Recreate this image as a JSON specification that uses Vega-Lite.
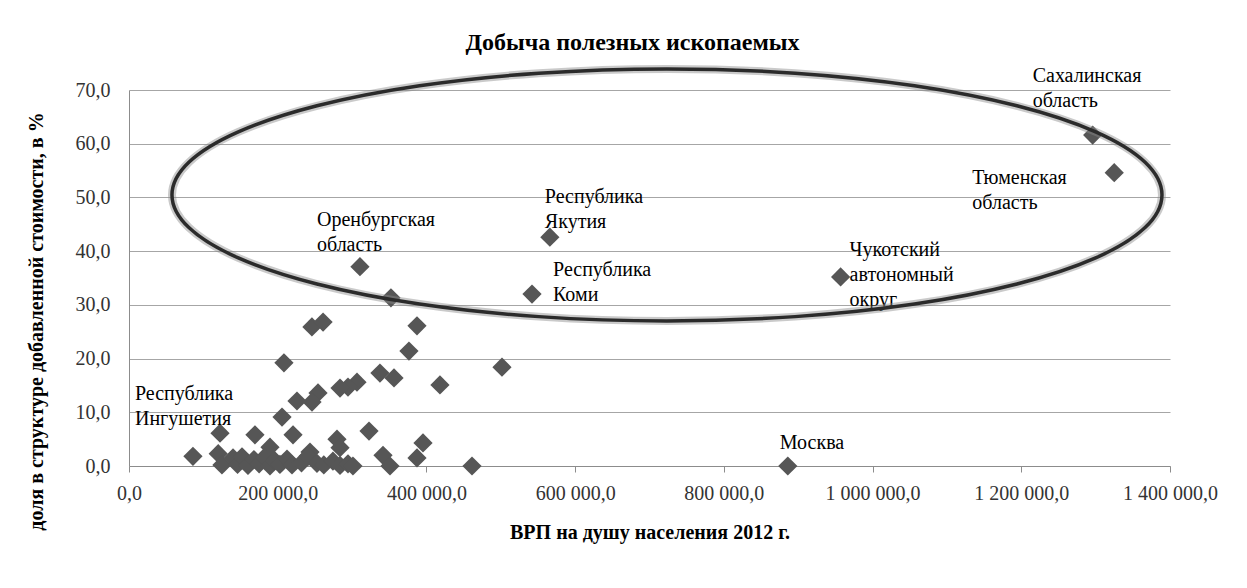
{
  "$schema": "https://vega.github.io/schema/vega-lite/v6.json",
  "width": 1041,
  "height": 376,
  "autosize": {"type": "none"},
  "padding": {"left": 129, "top": 90, "right": 77, "bottom": 122},
  "background": "white",
  "title": {
    "text": "Добыча полезных ископаемых",
    "font": "Liberation Serif, Times New Roman, DejaVu Serif, serif",
    "fontSize": 24,
    "fontWeight": "bold",
    "color": "#000000",
    "frame": "group",
    "anchor": "middle",
    "baseline": "alphabetic",
    "offset": -21,
    "dx": -17
  },
  "config": {
    "view": {"stroke": null},
    "font": "Liberation Serif, Times New Roman, DejaVu Serif, serif",
    "text": {"font": "Liberation Serif, Times New Roman, DejaVu Serif, serif", "fontSize": 20, "color": "#000000", "lineBreak": " ", "lineHeight": 25, "align": "left", "baseline": "top"}
  },
  "datasets": {
    "pts": [
      {"gdp": 1296000, "share": 61.6, "region": "Сахалинская область"},
      {"gdp": 1325000, "share": 54.6, "region": "Тюменская область"},
      {"gdp": 566000, "share": 42.6, "region": "Республика Якутия"},
      {"gdp": 542000, "share": 32.0, "region": "Республика Коми"},
      {"gdp": 957000, "share": 35.2, "region": "Чукотский автономный округ"},
      {"gdp": 886000, "share": 0.0, "region": "Москва"},
      {"gdp": 310600, "share": 37.1, "region": "Оренбургская область"},
      {"gdp": 86000, "share": 1.8, "region": "Республика Ингушетия"},
      {"gdp": 352300, "share": 31.3, "region": ""},
      {"gdp": 246000, "share": 25.9, "region": ""},
      {"gdp": 261000, "share": 26.8, "region": ""},
      {"gdp": 387300, "share": 26.1, "region": ""},
      {"gdp": 376500, "share": 21.4, "region": ""},
      {"gdp": 208400, "share": 19.2, "region": ""},
      {"gdp": 501600, "share": 18.4, "region": ""},
      {"gdp": 337500, "share": 17.3, "region": ""},
      {"gdp": 356400, "share": 16.4, "region": ""},
      {"gdp": 418200, "share": 15.1, "region": ""},
      {"gdp": 306600, "share": 15.6, "region": ""},
      {"gdp": 294500, "share": 14.7, "region": ""},
      {"gdp": 283800, "share": 14.5, "region": ""},
      {"gdp": 254200, "share": 13.6, "region": ""},
      {"gdp": 246100, "share": 11.9, "region": ""},
      {"gdp": 225900, "share": 12.1, "region": ""},
      {"gdp": 205800, "share": 9.1, "region": ""},
      {"gdp": 220600, "share": 5.8, "region": ""},
      {"gdp": 169400, "share": 5.8, "region": ""},
      {"gdp": 122400, "share": 6.1, "region": ""},
      {"gdp": 322800, "share": 6.5, "region": ""},
      {"gdp": 279700, "share": 5.0, "region": ""},
      {"gdp": 395400, "share": 4.3, "region": ""},
      {"gdp": 341600, "share": 2.0, "region": ""},
      {"gdp": 387300, "share": 1.5, "region": ""},
      {"gdp": 461300, "share": 0.0, "region": ""},
      {"gdp": 351000, "share": 0.0, "region": ""},
      {"gdp": 189600, "share": 3.5, "region": ""},
      {"gdp": 243400, "share": 2.6, "region": ""},
      {"gdp": 283800, "share": 3.4, "region": ""},
      {"gdp": 120000, "share": 2.3, "region": ""},
      {"gdp": 125000, "share": 0.2, "region": ""},
      {"gdp": 139900, "share": 1.5, "region": ""},
      {"gdp": 146000, "share": 0.3, "region": ""},
      {"gdp": 152000, "share": 1.7, "region": ""},
      {"gdp": 160000, "share": 0.1, "region": ""},
      {"gdp": 168000, "share": 1.2, "region": ""},
      {"gdp": 175000, "share": 0.4, "region": ""},
      {"gdp": 182000, "share": 1.6, "region": ""},
      {"gdp": 189600, "share": 0.0, "region": ""},
      {"gdp": 196000, "share": 1.0, "region": ""},
      {"gdp": 203000, "share": 0.3, "region": ""},
      {"gdp": 212500, "share": 1.3, "region": ""},
      {"gdp": 219200, "share": 0.2, "region": ""},
      {"gdp": 232000, "share": 0.6, "region": ""},
      {"gdp": 240700, "share": 1.8, "region": ""},
      {"gdp": 252800, "share": 0.5, "region": ""},
      {"gdp": 262000, "share": 0.2, "region": ""},
      {"gdp": 274300, "share": 0.9, "region": ""},
      {"gdp": 283800, "share": 0.1, "region": ""},
      {"gdp": 294500, "share": 0.4, "region": ""},
      {"gdp": 301200, "share": 0.0, "region": ""}
    ],
    "ellipse": [
      {"i": 0, "gdp": 1389200, "share": 50.47},
      {"i": 1, "gdp": 1366500, "share": 56.54},
      {"i": 2, "gdp": 1300000, "share": 62.2},
      {"i": 3, "gdp": 1194200, "share": 67.06},
      {"i": 4, "gdp": 1056350, "share": 70.79},
      {"i": 5, "gdp": 895780, "share": 73.13},
      {"i": 6, "gdp": 723500, "share": 73.93},
      {"i": 7, "gdp": 551220, "share": 73.13},
      {"i": 8, "gdp": 390650, "share": 70.79},
      {"i": 9, "gdp": 252800, "share": 67.06},
      {"i": 10, "gdp": 147000, "share": 62.2},
      {"i": 11, "gdp": 80500, "share": 56.54},
      {"i": 12, "gdp": 57800, "share": 50.47},
      {"i": 13, "gdp": 80500, "share": 44.4},
      {"i": 14, "gdp": 147000, "share": 38.74},
      {"i": 15, "gdp": 252800, "share": 33.88},
      {"i": 16, "gdp": 390650, "share": 30.15},
      {"i": 17, "gdp": 551220, "share": 27.81},
      {"i": 18, "gdp": 723500, "share": 27.01},
      {"i": 19, "gdp": 895780, "share": 27.81},
      {"i": 20, "gdp": 1056350, "share": 30.15},
      {"i": 21, "gdp": 1194200, "share": 33.88},
      {"i": 22, "gdp": 1300000, "share": 38.74},
      {"i": 23, "gdp": 1366500, "share": 44.4}
    ]
  },
  "encoding": {
    "x": {
      "field": "gdp",
      "type": "quantitative",
      "scale": {"domain": [0, 1400000], "nice": false, "zero": false},
      "axis": {
        "title": "ВРП на душу населения 2012 г.",
        "values": [0, 200000, 400000, 600000, 800000, 1000000, 1200000, 1400000],
        "labelExpr": "replace(replace(format(datum.value, ',.1f'), regexp(',', 'g'), ' '), '.', ',')",
        "grid": false,
        "domainColor": "#8c8c8c",
        "tickColor": "#8c8c8c",
        "tickSize": 6,
        "labelPadding": 11,
        "labelFont": "Liberation Serif, Times New Roman, DejaVu Serif, serif",
        "labelFontSize": 20,
        "labelColor": "#333333",
        "labelFlush": false,
        "labelOverlap": false,
        "titleFont": "Liberation Serif, Times New Roman, DejaVu Serif, serif",
        "titleFontSize": 20,
        "titleFontWeight": "bold",
        "titleColor": "#000000",
        "titleY": 66,
        "titleBaseline": "middle"
      }
    },
    "y": {
      "field": "share",
      "type": "quantitative",
      "scale": {"domain": [0, 70], "nice": false},
      "axis": {
        "title": "доля в структуре добавленной стоимости, в %",
        "values": [0, 10, 20, 30, 40, 50, 60, 70],
        "labelExpr": "replace(format(datum.value, '.1f'), '.', ',')",
        "grid": true,
        "gridColor": "#a6a6a6",
        "gridWidth": 1,
        "ticks": false,
        "domainColor": "#8c8c8c",
        "labelPadding": 19,
        "labelFont": "Liberation Serif, Times New Roman, DejaVu Serif, serif",
        "labelFontSize": 20,
        "labelColor": "#333333",
        "titleFont": "Liberation Serif, Times New Roman, DejaVu Serif, serif",
        "titleFontSize": 20,
        "titleFontWeight": "bold",
        "titleColor": "#000000",
        "titleAngle": -90,
        "titleX": -93,
        "titleY": 231,
        "titleAlign": "center",
        "titleBaseline": "middle"
      }
    }
  },
  "layer": [
    {
      "data": {"name": "pts"},
      "mark": {"type": "point", "shape": "diamond", "filled": true, "size": 370, "color": "#565656", "opacity": 1}
    },
    {
      "data": {"name": "pts"},
      "transform": [{"filter": "datum.region === 'Сахалинская область'"}],
      "mark": {"type": "text", "dx": -60, "dy": -69},
      "encoding": {"text": {"field": "region"}}
    },
    {
      "data": {"name": "pts"},
      "transform": [{"filter": "datum.region === 'Тюменская область'"}],
      "mark": {"type": "text", "dx": -142, "dy": -5},
      "encoding": {"text": {"field": "region"}}
    },
    {
      "data": {"name": "pts"},
      "transform": [{"filter": "datum.region === 'Республика Якутия'"}],
      "mark": {"type": "text", "dx": -5, "dy": -50},
      "encoding": {"text": {"field": "region"}}
    },
    {
      "data": {"name": "pts"},
      "transform": [{"filter": "datum.region === 'Республика Коми'"}],
      "mark": {"type": "text", "dx": 21, "dy": -34},
      "encoding": {"text": {"field": "region"}}
    },
    {
      "data": {"name": "pts"},
      "transform": [{"filter": "datum.region === 'Чукотский автономный округ'"}],
      "mark": {"type": "text", "dx": 9, "dy": -37},
      "encoding": {"text": {"field": "region"}}
    },
    {
      "data": {"name": "pts"},
      "transform": [{"filter": "datum.region === 'Москва'"}],
      "mark": {"type": "text", "dx": -8, "dy": -33},
      "encoding": {"text": {"field": "region"}}
    },
    {
      "data": {"name": "pts"},
      "transform": [{"filter": "datum.region === 'Оренбургская область'"}],
      "mark": {"type": "text", "dx": -43, "dy": -57},
      "encoding": {"text": {"field": "region"}}
    },
    {
      "data": {"name": "pts"},
      "transform": [{"filter": "datum.region === 'Республика Ингушетия'"}],
      "mark": {"type": "text", "dx": -58, "dy": -72},
      "encoding": {"text": {"field": "region"}}
    },
    {
      "data": {"name": "ellipse"},
      "mark": {"type": "line", "interpolate": "cardinal-closed", "color": "#8a8a8a", "strokeWidth": 8, "opacity": 0.45},
      "encoding": {"order": {"field": "i", "type": "quantitative"}}
    },
    {
      "data": {"name": "ellipse"},
      "mark": {"type": "line", "interpolate": "cardinal-closed", "color": "#2b2b2b", "strokeWidth": 3.5},
      "encoding": {"order": {"field": "i", "type": "quantitative"}}
    }
  ]
}
